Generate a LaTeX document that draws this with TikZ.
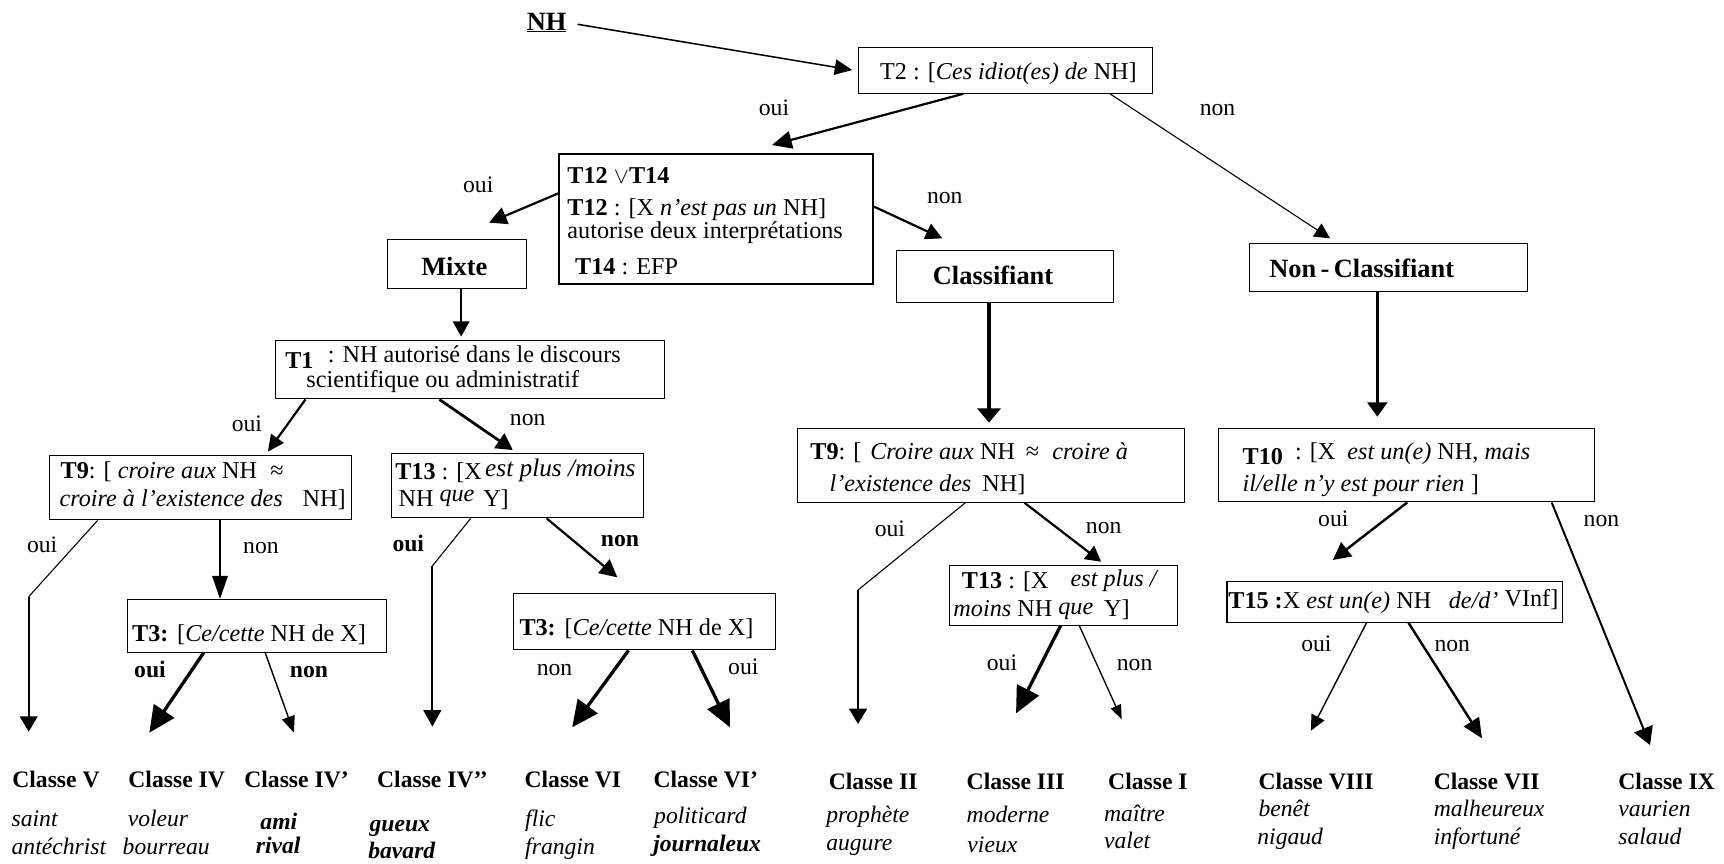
\documentclass[tikz,border=0pt]{standalone}
\usepackage{fontspec}
\setmainfont{Liberation Serif}[
  ItalicFont={Liberation Serif Italic},
  BoldFont={Liberation Serif Bold},
  BoldItalicFont={Liberation Serif Bold Italic}]
\usetikzlibrary{arrows.meta}
\tikzset{
  tx/.style={anchor=base west, inner sep=0pt, font=\fontsize{22}{24}\selectfont},
  lbl/.style={tx, font=\fontsize{21.5}{24}\selectfont},
  lblb/.style={tx, font=\bfseries\fontsize{21.5}{24}\selectfont},
  cls/.style={tx, font=\bfseries\fontsize{21.5}{24}\selectfont},
  ex/.style={tx, font=\itshape\fontsize{21.5}{24}\selectfont},
  exb/.style={tx, font=\bfseries\itshape\fontsize{21.5}{24}\selectfont},
  hdr/.style={tx, font=\bfseries\fontsize{24}{26}\selectfont},
  box/.style={draw, line width=1pt, anchor=north west, inner sep=0pt},
  arrowhd/.style 2 args={-{Triangle[length=#1pt,width=#2pt]}},
}
\begin{document}
\begin{tikzpicture}[x=1pt,y=-1pt]
\useasboundingbox (0,0) rectangle (1568,785);

% ---------- boxes ----------
\node[box, minimum width=267.1pt, minimum height=41.9pt] (t2) at (780.4,42.4) {};
\node[box, line width=1.8pt, minimum width=285.4pt, minimum height=117.6pt] (t12) at (507.9,139.4) {};
\node[box, minimum width=125.8pt, minimum height=45pt] (mixte) at (352.2,217) {};
\node[box, minimum width=196.7pt, minimum height=47pt] (classif) at (815.2,227.4) {};
\node[box, minimum width=252.6pt, minimum height=43.4pt] (noncl) at (1135.8,221.3) {};
\node[box, minimum width=354pt, minimum height=53.1pt] (t1) at (249.9,309.2) {};
\node[box, minimum width=274.3pt, minimum height=58.2pt] (t9l) at (44.6,414.1) {};
\node[box, minimum width=229.5pt, minimum height=58.2pt] (t13l) at (355.5,412.3) {};
\node[box, minimum width=235.3pt, minimum height=47.9pt] (t3l) at (115.6,544.8) {};
\node[box, minimum width=238pt, minimum height=51.6pt] (t3r) at (466.9,539) {};
\node[box, minimum width=352.5pt, minimum height=66.7pt] (t9r) at (724.7,389.6) {};
\node[box, minimum width=207.4pt, minimum height=54.5pt] (t13r) at (863.4,513.5) {};
\node[box, minimum width=342.3pt, minimum height=67pt] (t10) at (1107.6,389) {};
\node[box, minimum width=305.5pt, minimum height=37.4pt] (t15) at (1115.5,528) {};

% ---------- texts in boxes ----------
\node[hdr] (nh) at (479,27.3) {\underline{NH}};
\node[tx] (t2txt) at (800.3,72) {T2 : [\textit{Ces idiot(es) de} NH]};

\node[tx] (t12a) at (515.9,166.7) {\textbf{T12 $\vee$T14}};
\node[tx] (t12b) at (515.9,196) {\textbf{T12} : [X \textit{n’est pas un} NH]};
\node[tx] (t12c) at (515.9,217) {autorise deux interprétations};
\node[tx] (t12d) at (522.9,249.6) {\textbf{T14} : EFP};

\node[hdr] (mixtetxt) at (383,250.5) {Mixte};
\node[hdr] (classiftxt) at (848.3,258.5) {Classifiant};
\node[hdr] (noncltxt) at (1154.3,252.5) {Non\,-\,Classifiant};

\node[tx] (t1a) at (259.3,330) {\raisebox{-5pt}{\textbf{T1}}\hspace{13pt}: NH autorisé dans le discours};
\node[tx] (t1b) at (278.5,352.3) {scientifique ou administratif};

\node[tx] (t9la) at (55,435) {\textbf{T9}: [ \textit{croire aux} NH\hspace{12pt}≈};
\node[tx] (t9lb) at (54,460.8) {\textit{croire à l’existence des}\hspace{18pt}NH]};

\node[tx] (t13la) at (359.3,436) {\textbf{T13} : [X\hspace{3pt}\raisebox{3pt}{\fontsize{23}{25}\selectfont\itshape est plus /moins}};
\node[tx] (t13lb) at (362.3,460.8) {NH \raisebox{4.5pt}{\textit{que}}\hspace{8pt}Y]};

\node[tx] (t3ltxt) at (120,583.6) {\textbf{T3:}\hspace{8pt}[\textit{Ce/cette} NH de X]};
\node[tx] (t3rtxt) at (472.3,578) {\textbf{T3:}\hspace{8pt}[\textit{Ce/cette} NH de X]};

\node[tx] (t9ra) at (736.9,417.8) {\textbf{T9}: [\hspace{8pt}\textit{Croire aux} NH\hspace{10pt}≈\hspace{12pt}\textit{croire à}};
\node[tx] (t9rb) at (754.4,447.2) {\textit{l’existence des}\hspace{10pt}NH]};

\node[tx] (t13ra) at (874.7,535.5) {\textbf{T13} : [X\hspace{20pt}\raisebox{2pt}{\textit{est plus /}}};
\node[tx] (t13rb) at (867,561) {\textit{moins} NH \raisebox{2.5pt}{\textit{que}}\hspace{10pt}Y]};

\node[tx] (t10a) at (1130,422.3) {\textbf{T10}\hspace{11pt}\raisebox{4pt}{: [X\hspace{11pt}\textit{est un(e)} NH, \textit{mais}}};
\node[tx] (t10b) at (1130,447.2) {\textit{il/elle n’y est pour rien}\hspace{6pt}]};

\node[tx] (t15txt) at (1117,553) {\textbf{T15 :}X \textit{est un(e)} NH\hspace{16pt}\textit{de/d’} \raisebox{1.5pt}{VInf]}};

% ---------- oui / non labels ----------
\node[lbl] (l1) at (690,104.6) {oui};
\node[lbl] (l2) at (1091,104.6) {non};
\node[lbl] (l3) at (421,175.2) {oui};
\node[lbl] (l4) at (843,185) {non};
\node[lbl] (l5) at (210.6,392.6) {oui};
\node[lbl] (l6) at (463.6,387.4) {non};
\node[lbl] (l7) at (24.4,502.7) {oui};
\node[lbl] (l8) at (221,503.2) {non};
\node[lblb] (l9) at (356.8,502) {oui};
\node[lblb] (l10) at (546.3,497.2) {non};
\node[lblb] (l11) at (121.9,616) {oui};
\node[lblb] (l12) at (263.5,616) {non};
\node[lbl] (l13) at (488,614.8) {non};
\node[lbl] (l14) at (662.1,613.9) {oui};
\node[lbl] (l15) at (795.4,487.5) {oui};
\node[lbl] (l16) at (987.5,485.1) {non};
\node[lbl] (l17) at (897.4,610) {oui};
\node[lbl] (l18) at (1015.6,610) {non};
\node[lbl] (l19) at (1198.7,479) {oui};
\node[lbl] (l20) at (1440.2,479) {non};
\node[lbl] (l21) at (1183.3,592.7) {oui};
\node[lbl] (l22) at (1304.5,592.7) {non};

% ---------- classes ----------
\node[cls] (cV) at (11,716) {Classe V};
\node[cls] (cIV) at (116.6,716) {Classe IV};
\node[cls] (cIVp) at (222,716) {Classe IV’};
\node[cls] (cIVpp) at (342.8,716) {Classe IV’’};
\node[cls] (cVI) at (476.9,716) {Classe VI};
\node[cls] (cVIp) at (594.2,716) {Classe VI’};
\node[cls] (cII) at (753.6,718.5) {Classe II};
\node[cls] (cIII) at (879,718.5) {Classe III};
\node[cls] (cI) at (1007.7,718.5) {Classe I};
\node[cls] (cVIII) at (1144.5,718.5) {Classe VIII};
\node[cls] (cVII) at (1303.8,718.5) {Classe VII};
\node[cls] (cIX) at (1471.7,718.5) {Classe IX};

\node[ex] (e1) at (10.4,751.9) {saint};
\node[ex] (e2) at (10.4,777.6) {antéchrist};
\node[ex] (e3) at (116,751.9) {voleur};
\node[ex] (e4) at (111.4,777.6) {bourreau};
\node[exb] (e5) at (236.7,754.3) {ami};
\node[exb] (e6) at (232.5,776.7) {rival};
\node[exb] (e7) at (335.9,756.4) {gueux};
\node[exb] (e8) at (334.8,780.7) {bavard};
\node[ex] (e9) at (477.5,751.9) {flic};
\node[ex] (e10) at (477.5,777.6) {frangin};
\node[ex] (e11) at (594.8,749) {politicard};
\node[exb] (e12) at (594,774) {journaleux};
\node[ex] (e13) at (751.3,748.2) {prophète};
\node[ex] (e14) at (751.3,773.1) {augure};
\node[ex] (e15) at (879,748) {moderne};
\node[ex] (e16) at (879.7,775) {vieux};
\node[ex] (e17) at (1004,747.3) {maître};
\node[ex] (e18) at (1004,771.6) {valet};
\node[ex] (e19) at (1144.5,742.8) {benêt};
\node[ex] (e20) at (1143.4,768.5) {nigaud};
\node[ex] (e21) at (1303.8,742.8) {malheureux};
\node[ex] (e22) at (1303.8,768.5) {infortuné};
\node[ex] (e23) at (1471.7,742.8) {vaurien};
\node[ex] (e24) at (1471.7,768.5) {salaud};

% ---------- free ends of connectors ----------
\coordinate (pA) at (775.2,63.7);
\coordinate (pB) at (702.1,131.9);
\coordinate (pC) at (1209.7,216.8);
\coordinate (pD) at (444.8,202.5);
\coordinate (pE) at (857,216.8);
\coordinate (pF) at (419.4,306.2);
\coordinate (pG) at (243.6,410.8);
\coordinate (pH) at (466.4,409.3);
\coordinate (bV) at (26.1,542.7);
\coordinate (pV) at (26.1,665.5);
\coordinate (pIV) at (135.8,666.4);
\coordinate (pIVp) at (267.3,666.4);
\coordinate (bIVpp) at (393.2,514.8);
\coordinate (pIVpp) at (393.2,660.9);
\coordinate (pK) at (561.5,525.1);
\coordinate (pVI) at (520.4,661.5);
\coordinate (pVIp) at (663.9,661.5);
\coordinate (pL) at (899.5,384.4);
\coordinate (bII) at (780.4,536.6);
\coordinate (pII) at (780.4,658.5);
\coordinate (pM) at (1001.5,510.9);
\coordinate (pIII) at (924.1,648.8);
\coordinate (pI) at (1020.2,654.2);
\coordinate (pN) at (1252.7,379);
\coordinate (pO) at (1212.2,509.3);
\coordinate (pIX) at (1500.7,677.6);
\coordinate (pVIII) at (1192.3,664.6);
\coordinate (pVII) at (1347.9,671.5);

% ---------- connectors ----------
\draw[line width=1.4pt, arrowhd={16}{14}, shorten <=10pt] (nh.east) -- (pA);
\draw[line width=2pt, arrowhd={18}{16}] (876.1,0 |- t2.south) -- (pB);
\draw[line width=1pt, arrowhd={14}{14}] (1009.5,0 |- t2.south) -- (pC);
\draw[line width=2pt, arrowhd={16}{16}] (t12.west |- 0,175.8) -- (pD);
\draw[line width=2pt, arrowhd={15}{15}] (t12.east |- 0,188) -- (pE);
\draw[line width=2pt, arrowhd={14}{15}] (419.4,0 |- mixte.south) -- (pF);
\draw[line width=2pt, arrowhd={15}{14}] (277.8,0 |- t1.south) -- (pG);
\draw[line width=2.5pt, arrowhd={15}{16}] (399.6,0 |- t1.south) -- (pH);
\draw[line width=1pt] (88.8,0 |- t9l.south) -- (bV);
\draw[line width=2pt, arrowhd={14}{16}] (bV) -- (pV);
\draw[line width=2pt, arrowhd={21}{14}] (200.1,0 |- t9l.south) -- (200.1,0 |- t3l.north);
\draw[line width=3pt, arrowhd={24}{22}] (185.2,0 |- t3l.south) -- (pIV);
\draw[line width=1.3pt, arrowhd={15}{12}] (241.2,0 |- t3l.south) -- (pIVp);
\draw[line width=1pt] (428.1,0 |- t13l.south) -- (bIVpp);
\draw[line width=2pt, arrowhd={15}{16}] (bIVpp) -- (pIVpp);
\draw[line width=2pt, arrowhd={16}{16}] (497.2,0 |- t13l.south) -- (pK);
\draw[line width=3pt, arrowhd={24}{22}] (571.6,0 |- t3r.south) -- (pVI);
\draw[line width=3pt, arrowhd={24}{22}] (629.7,0 |- t3r.south) -- (pVIp);
\draw[line width=3pt, arrowhd={13}{21}] (899.5,0 |- classif.south) -- (pL);
\draw[line width=1pt] (877.9,0 |- t9r.south) -- (bII);
\draw[line width=2.5pt, arrowhd={14}{16}] (bII) -- (pII);
\draw[line width=2pt, arrowhd={14}{15}] (931.8,0 |- t9r.south) -- (pM);
\draw[line width=3pt, arrowhd={24}{22}] (964.7,0 |- t13r.south) -- (pIII);
\draw[line width=1.2pt, arrowhd={13}{10}] (981.6,0 |- t13r.south) -- (pI);
\draw[line width=2.5pt, arrowhd={13}{18}] (1252.7,0 |- noncl.south) -- (pN);
\draw[line width=2.2pt, arrowhd={16}{16}] (1279.9,0 |- t10.south) -- (pO);
\draw[line width=1.8pt, arrowhd={16}{18}] (1411.3,0 |- t10.south) -- (pIX);
\draw[line width=1.3pt, arrowhd={14}{13}] (1242.9,0 |- t15.south) -- (pVIII);
\draw[line width=2.2pt, arrowhd={18}{16}] (1281,0 |- t15.south) -- (pVII);
\end{tikzpicture}
\end{document}
